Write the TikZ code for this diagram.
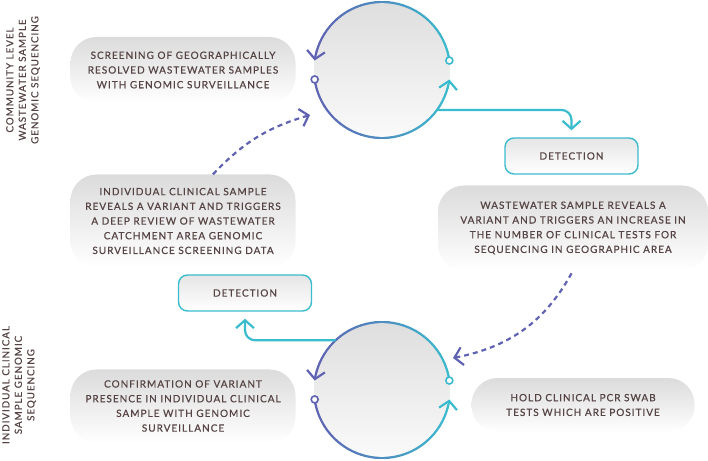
\documentclass[tikz,border=0pt]{standalone}
\usepackage{fontspec}
\setmainfont{Lato}[FakeBold=0.6,LetterSpace=10]
\usetikzlibrary{arrows.meta}
\definecolor{cyclepurple}{RGB}{96,98,178}
\definecolor{cyclecyan}{RGB}{58,188,206}
\definecolor{labelbrown}{RGB}{86,68,68}

\tikzset{
  bubble/.style={rounded corners=26pt, top color=black!14, bottom color=white,
    text=labelbrown, align=center, inner sep=0pt,
    font=\fontsize{10}{14.7}\selectfont},
  detectbox/.style={draw=cyclecyan, line width=1.4pt, rounded corners=9pt,
    top color=black!10, bottom color=white, text=labelbrown,
    minimum width=133pt, minimum height=36pt, font=\fontsize{10}{11}\selectfont},
  sidelabel/.style={rotate=90, align=center, text=labelbrown,
    font=\fontsize{9.8}{12.5}\selectfont},
  cyclefill/.style={circle, minimum size=136pt, inner sep=0pt, outer sep=0pt,
    top color=black!13, bottom color=black!2},
  cycleline/.style={line width=2.2pt, line cap=round},
  cyanflow/.style={cyclecyan, line width=2.2pt, rounded corners=10pt,
    -{Straight Barb[length=8pt,width=18pt]}},
  dashflow/.style={cyclepurple, line width=2.2pt, dash pattern=on 5pt off 4pt,
    -{Straight Barb[length=8pt,width=18pt]}}
}

\begin{document}
\begin{tikzpicture}[x=1pt,y=1pt]
\useasboundingbox (0,0) rectangle (708,460);

% side titles
\node[sidelabel] (communitylabel) at (23,380) {COMMUNITY LEVEL\\WASTEWATER SAMPLE\\GENOMIC SEQUENCING};
\node[sidelabel] (clinicallabel) at (19,75) {INDIVIDUAL CLINICAL\\SAMPLE GENOMIC\\SEQUENCING};

% text bubbles
\node[bubble, minimum width=225pt, minimum height=66pt] (screening) at (183,390)
  {SCREENING OF GEOGRAPHICALLY\\RESOLVED WASTEWATER SAMPLES\\WITH GENOMIC SURVEILLANCE};
\node[bubble, minimum width=225pt, minimum height=93pt] (clintrigger) at (183,239)
  {INDIVIDUAL CLINICAL SAMPLE\\REVEALS A VARIANT AND TRIGGERS\\A DEEP REVIEW OF WASTEWATER\\CATCHMENT AREA GENOMIC\\SURVEILLANCE SCREENING DATA};
\node[bubble, minimum width=270pt, minimum height=85pt] (wastetrigger) at (573,232)
  {WASTEWATER SAMPLE REVEALS A\\VARIANT AND TRIGGERS AN INCREASE IN\\THE NUMBER OF CLINICAL TESTS FOR\\SEQUENCING IN GEOGRAPHIC AREA};
\node[bubble, minimum width=225pt, minimum height=73pt] (confirm) at (183,54)
  {CONFIRMATION OF VARIANT\\PRESENCE IN INDIVIDUAL CLINICAL\\SAMPLE WITH GENOMIC\\SURVEILLANCE};
\node[bubble, minimum width=223pt, minimum height=54pt] (pcrtests) at (583,55)
  {HOLD CLINICAL PCR SWAB\\TESTS WHICH ARE POSITIVE};

% detection boxes
\node[detectbox] (wastedetect) at (571.5,304) {DETECTION};
\node[detectbox] (clindetect) at (245,167) {DETECTION};

% the two cycles
\node[cyclefill] (wastecycle) at (382,390) {};
\node[cyclefill] (clincycle) at (382,70) {};
\foreach \c in {wastecycle,clincycle} {
  \foreach \a/\b in {8/172,188/352} {
    \pgfmathtruncatemacro\n{\a+4}
    \pgfmathtruncatemacro\e{\b-12}
    \foreach \s in {\a,\n,...,\e} {
      \pgfmathtruncatemacro\mix{50+50*cos(\s+2)}
      \draw[cycleline, cyclecyan!\mix!cyclepurple] (\c.\s) arc[start angle=\s, end angle=\s+4, radius=68pt];
    }
    \pgfmathtruncatemacro\f{\b-8}
    \pgfmathtruncatemacro\mix{50+50*cos(\b)}
    \draw[cycleline, cyclecyan!\mix!cyclepurple, -{Straight Barb[length=8pt,width=18pt]}]
      (\c.\f) arc[start angle=\f, end angle=\b, radius=68pt];
    \pgfmathtruncatemacro\mix{50+50*cos(\a)}
    \node[circle, draw=cyclecyan!\mix!cyclepurple, fill=white, line width=1.6pt,
      minimum size=7pt, inner sep=0pt] at (\c.\a) {};
  }
}

% detection flows
\draw[cyanflow, shorten >=7pt] (wastecycle.-36) -| (wastedetect.north);
\draw[cyanflow, shorten >=7pt] (clincycle.133) -| (clindetect.south);

% cross triggers
\coordinate (wasteentry) at (310,345);
\coordinate (clinentry) at (453,102);
\draw[dashflow] ([xshift=30pt]clintrigger.north) to[bend left=15] (wasteentry);
\draw[dashflow, shorten <=3pt] (wastetrigger.south) to[bend left=25] (clinentry);
\end{tikzpicture}
\end{document}
